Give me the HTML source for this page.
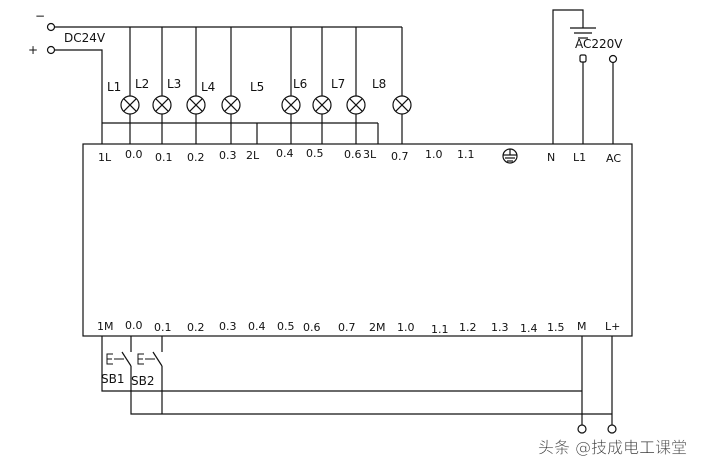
<!DOCTYPE html>
<html><head><meta charset="utf-8"><style>
body{margin:0;background:#fff;}
svg{display:block;}
text{font-family:"DejaVu Sans","Noto Sans CJK SC",sans-serif;fill:#111;}
</style></head><body>
<svg width="719" height="471" viewBox="0 0 719 471" xmlns="http://www.w3.org/2000/svg">
<g stroke="#111" stroke-width="1.2" fill="none">
<rect x="83" y="144" width="549" height="192"/>
<circle cx="51" cy="27" r="3.5"/>
<circle cx="51" cy="50" r="3.5"/>
<line x1="55" y1="27" x2="402" y2="27"/>
<polyline points="55,50 102,50 102,144"/>
<line x1="102" y1="123" x2="378" y2="123"/>
<line x1="257" y1="123" x2="257" y2="144"/>
<line x1="378" y1="123" x2="378" y2="144"/>
<g>
<line x1="130" y1="27" x2="130" y2="96"/><line x1="130" y1="114" x2="130" y2="144"/>
<line x1="162" y1="27" x2="162" y2="96"/><line x1="162" y1="114" x2="162" y2="144"/>
<line x1="196" y1="27" x2="196" y2="96"/><line x1="196" y1="114" x2="196" y2="144"/>
<line x1="231" y1="27" x2="231" y2="96"/><line x1="231" y1="114" x2="231" y2="144"/>
<line x1="291" y1="27" x2="291" y2="96"/><line x1="291" y1="114" x2="291" y2="144"/>
<line x1="322" y1="27" x2="322" y2="96"/><line x1="322" y1="114" x2="322" y2="144"/>
<line x1="356" y1="27" x2="356" y2="96"/><line x1="356" y1="114" x2="356" y2="144"/>
<line x1="402" y1="27" x2="402" y2="96"/><line x1="402" y1="114" x2="402" y2="144"/>
</g>
<g>
<circle cx="130" cy="105" r="9"/><path d="M123.6 98.6L136.4 111.4M136.4 98.6L123.6 111.4"/>
<circle cx="162" cy="105" r="9"/><path d="M155.6 98.6L168.4 111.4M168.4 98.6L155.6 111.4"/>
<circle cx="196" cy="105" r="9"/><path d="M189.6 98.6L202.4 111.4M202.4 98.6L189.6 111.4"/>
<circle cx="231" cy="105" r="9"/><path d="M224.6 98.6L237.4 111.4M237.4 98.6L224.6 111.4"/>
<circle cx="291" cy="105" r="9"/><path d="M284.6 98.6L297.4 111.4M297.4 98.6L284.6 111.4"/>
<circle cx="322" cy="105" r="9"/><path d="M315.6 98.6L328.4 111.4M328.4 98.6L315.6 111.4"/>
<circle cx="356" cy="105" r="9"/><path d="M349.6 98.6L362.4 111.4M362.4 98.6L349.6 111.4"/>
<circle cx="402" cy="105" r="9"/><path d="M395.6 98.6L408.4 111.4M408.4 98.6L395.6 111.4"/>
</g>
<polyline points="553,144 553,10 583,10 583,28"/>
<line x1="570" y1="28" x2="596" y2="28"/>
<line x1="574" y1="33" x2="592" y2="33"/>
<line x1="578" y1="38" x2="588" y2="38"/>
<rect x="580" y="55" width="6" height="7" rx="1.5"/>
<circle cx="613" cy="59" r="3.5"/>
<line x1="583" y1="62" x2="583" y2="144"/>
<line x1="613" y1="62.5" x2="613" y2="144"/>
<circle cx="510" cy="156" r="7"/>
<line x1="510" y1="149" x2="510" y2="155"/>
<line x1="503" y1="155" x2="517" y2="155"/>
<line x1="505" y1="158" x2="515" y2="158"/>
<line x1="507" y1="161" x2="513" y2="161"/>
<polyline points="102,336 102,391 582,391"/>
<line x1="131" y1="336" x2="131" y2="352"/>
<line x1="122" y1="352" x2="131" y2="366"/>
<polyline points="131,366 131,414 612,414"/>
<line x1="162" y1="336" x2="162" y2="352"/>
<line x1="153" y1="352" x2="162" y2="366"/>
<line x1="162" y1="366" x2="162" y2="414"/>
<path d="M113 354H107V364H113M107 359H112M114 359H124" stroke-width="1"/>
<path d="M144 354H138V364H144M138 359H143M145 359H155" stroke-width="1"/>
<line x1="582" y1="336" x2="582" y2="425"/>
<line x1="612" y1="336" x2="612" y2="425"/>
<circle cx="582" cy="429" r="4"/>
<circle cx="612" cy="429" r="4"/>
</g>
<g font-size="12">
<text x="35" y="20">−</text>
<text x="28" y="54">+</text>
<text x="64" y="42">DC24V</text>
<text x="107" y="91">L1</text><text x="135" y="88">L2</text><text x="167" y="88">L3</text>
<text x="201" y="91">L4</text><text x="250" y="91">L5</text><text x="293" y="88">L6</text>
<text x="331" y="88">L7</text><text x="372" y="88">L8</text>
<text x="575" y="48">AC220V</text>
<g font-size="11">
<text x="98" y="161">1L</text><text x="125" y="158">0.0</text><text x="155" y="161">0.1</text>
<text x="187" y="161">0.2</text><text x="219" y="159">0.3</text><text x="246" y="159">2L</text>
<text x="276" y="157">0.4</text><text x="306" y="157">0.5</text><text x="344" y="158">0.6</text>
<text x="363" y="158">3L</text><text x="391" y="160">0.7</text><text x="425" y="158">1.0</text>
<text x="457" y="158">1.1</text><text x="547" y="161">N</text><text x="573" y="161">L1</text>
<text x="606" y="162">AC</text>
<text x="97" y="330">1M</text><text x="125" y="329">0.0</text><text x="154" y="331">0.1</text>
<text x="187" y="331">0.2</text><text x="219" y="330">0.3</text><text x="248" y="330">0.4</text>
<text x="277" y="330">0.5</text><text x="303" y="331">0.6</text><text x="338" y="331">0.7</text>
<text x="369" y="331">2M</text><text x="397" y="331">1.0</text><text x="431" y="333">1.1</text>
<text x="459" y="331">1.2</text><text x="491" y="331">1.3</text><text x="520" y="332">1.4</text>
<text x="547" y="331">1.5</text><text x="577" y="330">M</text><text x="605" y="330">L+</text>
</g>
<text x="101" y="383" font-family="Liberation Serif" font-size="12">SB1</text>
<text x="131" y="385" font-family="Liberation Serif" font-size="12">SB2</text>
</g>
<text x="538" y="453" font-size="16" style="fill:#333;stroke:#fff;stroke-width:0.5">头条 @技成电工课堂</text>
</svg>
</body></html>
